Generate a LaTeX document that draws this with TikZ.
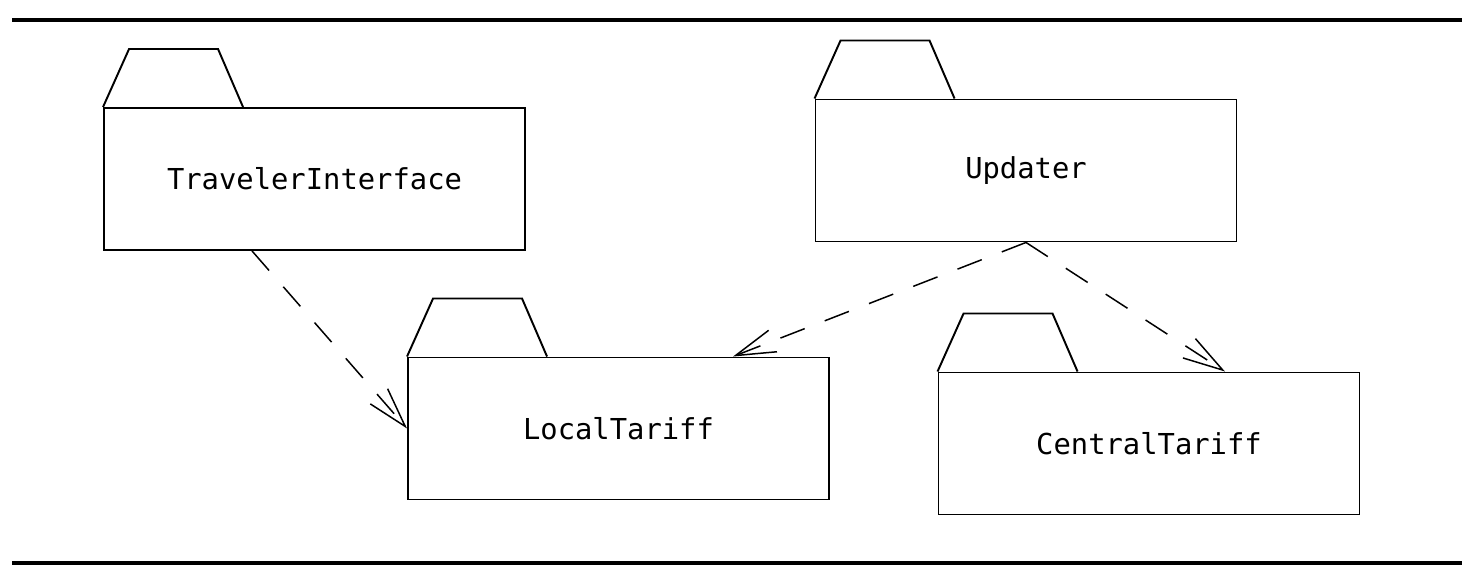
\documentclass[tikz,border=0pt]{standalone}
\usepackage{fontspec}
\setmonofont{DejaVu Sans Mono}
\usepackage{tikz}
\usetikzlibrary{calc,arrows.meta}

\begin{document}
\begin{tikzpicture}[
    pkgbox/.style={draw, line width=1.1pt, rectangle, inner sep=0pt,
      minimum width=8.42cm, minimum height=2.84cm,
      font=\ttfamily\fontsize{16.4}{19}\selectfont},
    dep/.style={line width=0.85pt, dash pattern=on 0.52cm off 0.43cm,
      -{Straight Barb[length=0.8cm,width=0.46cm,line width=0.85pt]}}
  ]
  \useasboundingbox (0,0) rectangle (29.56,11.6);

  % horizontal rules (top and bottom)
  \draw[line width=2.3pt] (0.24,11.2) -- (29.24,11.2);
  \draw[line width=2.3pt] (0.24,0.34) -- (29.24,0.34);

  % packages
  \node[pkgbox] (ti) at (6.29,8.02) {TravelerInterface};
  \node[pkgbox] (up) at (20.52,8.19) {Updater};
  \node[pkgbox] (lt) at (12.37,3.03) {LocalTariff};
  \node[pkgbox] (ct) at (22.98,2.73) {CentralTariff};

  % folder tabs on top of each package
  \foreach \pkg in {ti,up,lt,ct}
    \draw[line width=1.1pt] (\pkg.north west) -- ++(0.52,1.16) -- ++(1.78,0)
      -- ($(\pkg.north west)+(2.8,0)$);

  % dependencies
  \draw[dep] ($(ti.south west)+(2.98,0)$) -- (lt.west);
  \draw[dep] (up.south) -- ($(lt.north)+(2.29,0)$);
  \draw[dep] (up.south) -- ($(ct.north)+(1.52,0)$);
\end{tikzpicture}
\end{document}
